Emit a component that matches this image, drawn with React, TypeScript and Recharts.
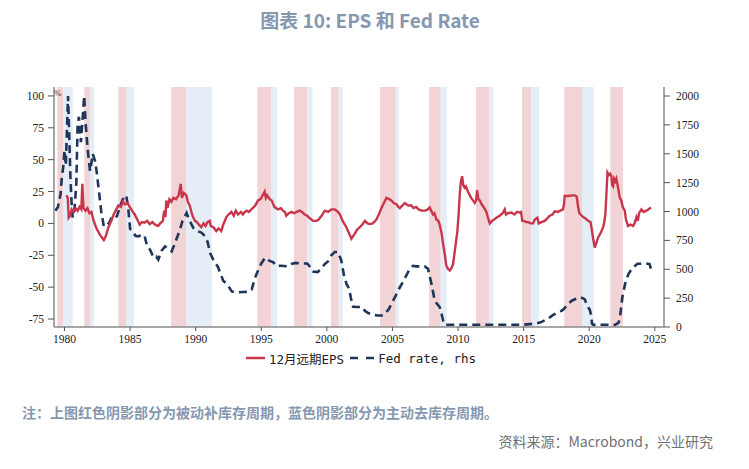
import React from 'react';
import { LineChart, Line, XAxis, YAxis, ReferenceArea } from 'recharts';

const xTicks = [1980, 1985, 1990, 1995, 2000, 2005, 2010, 2015, 2020, 2025];
const leftTicks = [-75, -50, -25, 0, 25, 50, 75, 100];
const rightTicks = [0, 250, 500, 750, 1000, 1250, 1500, 1750, 2000];

const redBands: [number, number][] = [
  [1979.45, 1979.9], [1981.51, 1981.95], [1984.1, 1984.7], [1988.13, 1989.27],
  [1994.7, 1995.74], [1997.5, 1998.5], [2000.32, 2000.9], [2004.05, 2005.25],
  [2007.79, 2008.68], [2011.37, 2012.36], [2014.88, 2015.59], [2018.1, 2019.46],
  [2021.61, 2022.58],
];
const blueBands: [number, number][] = [
  [1979.9, 1980.63], [1981.95, 1982.25], [1984.7, 1985.3], [1989.27, 1991.24],
  [1995.74, 1996.2], [1998.5, 1998.9], [2000.9, 2001.21], [2005.25, 2005.48],
  [2008.68, 2009.14], [2012.36, 2012.69], [2015.59, 2016.18], [2019.46, 2020.35],
];

const epsYears = [
  1980.15, 1980.25, 1980.32, 1980.42, 1980.55, 1980.7, 1980.85, 1981.0, 1981.15, 1981.28,
  1981.36, 1981.45, 1981.6, 1981.75, 1981.9, 1982.05, 1982.2, 1982.4, 1982.55, 1982.7,
  1982.85, 1983.0, 1983.15, 1983.35, 1983.57, 1983.75, 1983.9, 1984.1, 1984.3, 1984.45,
  1984.6, 1984.8, 1984.97, 1985.15, 1985.35, 1985.55, 1985.73, 1985.9, 1986.1, 1986.3,
  1986.5, 1986.7, 1986.9, 1987.13, 1987.3, 1987.5, 1987.6, 1987.7, 1987.76, 1987.85,
  1988.0, 1988.15, 1988.3, 1988.5, 1988.7, 1988.86, 1988.95, 1989.1, 1989.29, 1989.4,
  1989.55, 1989.7, 1989.8, 1989.95, 1990.1, 1990.25, 1990.43, 1990.6, 1990.75, 1990.9,
  1991.07, 1991.15, 1991.35, 1991.57, 1991.75, 1991.95, 1992.1, 1992.34, 1992.5, 1992.72,
  1992.9, 1993.05, 1993.23, 1993.45, 1993.6, 1993.74, 1993.9, 1994.05, 1994.24, 1994.45,
  1994.6, 1994.75, 1994.95, 1995.1, 1995.26, 1995.35, 1995.45, 1995.64, 1995.8, 1996.0,
  1996.28, 1996.5, 1996.66, 1996.8, 1996.91, 1997.1, 1997.3, 1997.5, 1997.7, 1997.93,
  1998.1, 1998.31, 1998.5, 1998.7, 1998.95, 1999.15, 1999.33, 1999.6, 1999.84, 2000.1,
  2000.34, 2000.6, 2000.85, 2001.0, 2001.2, 2001.49, 2001.7, 2001.87, 2002.0, 2002.13,
  2002.3, 2002.5, 2002.7, 2002.9, 2003.1, 2003.27, 2003.5, 2003.78, 2004.0, 2004.16,
  2004.35, 2004.54, 2004.75, 2004.92, 2005.1, 2005.3, 2005.45, 2005.56, 2005.75, 2005.94,
  2006.2, 2006.44, 2006.6, 2006.8, 2007.0, 2007.2, 2007.5, 2007.7, 2007.84, 2007.95,
  2008.1, 2008.2, 2008.35, 2008.5, 2008.6, 2008.75, 2008.86, 2009.0, 2009.1, 2009.25,
  2009.37, 2009.5, 2009.62, 2009.8, 2009.95, 2010.05, 2010.13, 2010.22, 2010.31, 2010.4,
  2010.5, 2010.6, 2010.75, 2010.9, 2011.0, 2011.15, 2011.27, 2011.38, 2011.45, 2011.55,
  2011.66, 2011.8, 2012.0, 2012.16, 2012.3, 2012.42, 2012.6, 2012.8, 2013.0, 2013.18,
  2013.4, 2013.56, 2013.65, 2013.8, 2014.07, 2014.3, 2014.5, 2014.7, 2014.8, 2014.9,
  2015.0, 2015.2, 2015.34, 2015.55, 2015.72, 2015.85, 2016.05, 2016.15, 2016.35, 2016.6,
  2016.8, 2016.99, 2017.2, 2017.37, 2017.6, 2017.8, 2018.0, 2018.08, 2018.13, 2018.4,
  2018.7, 2018.9, 2019.05, 2019.15, 2019.25, 2019.53, 2019.7, 2019.91, 2020.1, 2020.2,
  2020.3, 2020.42, 2020.55, 2020.68, 2020.9, 2021.06, 2021.15, 2021.23, 2021.32, 2021.39,
  2021.5, 2021.6, 2021.69, 2021.75, 2021.82, 2021.9, 2022.0, 2022.07, 2022.2, 2022.33,
  2022.45, 2022.55, 2022.71, 2022.8, 2022.96, 2023.15, 2023.34, 2023.45, 2023.6, 2023.7,
  2023.8, 2023.98, 2024.15, 2024.35, 2024.5, 2024.7,
];
const epsValues = [
  22, 20, 4.5, 6, 11, 9, 12, 10, 13, 11,
  31, 12, 10, 12, 8, 9, 3, -3, -6, -9,
  -11, -13, -10, -3, 2, 7, 10, 14, 13, 17,
  15, 16, 13, 10, 7, 3, -1, 1, 0.5, 2,
  -0.5, 1, -1, -2, 0, 2, 10, 5, 18, 12,
  19, 17, 20, 19, 22, 31, 20, 24, 22, 17,
  14, 8, 5, 2, 1, -1, -3, 0, -2, 1,
  2, -2, -3, -6, -4, -6, -1, 5, 7, 9,
  6, 10, 7, 9, 7, 9, 10, 9, 11, 13,
  15, 18, 19, 22, 25, 20, 22, 19, 18, 13,
  11, 12, 10, 9, 6, 8, 9, 8, 9, 10,
  9, 7, 6, 4, 2, 2, 2.5, 6, 10, 9,
  11, 11, 9, 7, 2, -3, -8, -12, -10, -8,
  -5, -3, -1, 2, 0, -0.5, 0, 3, 8, 12,
  16, 20, 19, 18, 16, 15, 13, 12, 14, 16,
  14, 14, 12, 13, 11, 10, 10, 11, 12.5, 10,
  7, 8, 3, 2, -1, -8, -16, -25, -33, -36,
  -37, -35, -32, -18, -6, 8, 23, 33, 37, 30,
  28, 29, 25, 22, 20, 18, 16, 18, 26, 19,
  18, 15, 12, 9, 4, 0, 2, 3.5, 5, 6,
  8, 11, 7, 8, 8.5, 7, 9, 8.5, 9, 2,
  2, 1, 1, 0, 0, 3, 4.5, 0, 1, 2,
  4, 6, 7, 9.5, 9, 10, 11, 15, 21.5, 21.5,
  22, 22, 21, 13, 8, 5, 4, 2, 1, -5,
  -12, -19, -15, -11, -7, -3, 1, 7, 25, 40,
  38, 39, 37, 30, 29, 35, 33, 35, 28, 20,
  18, 13, 10, 3, -2, -1, -2, 0, 5, 2,
  8, 11, 9, 10, 11, 12.5,
];

const fedYears = [
  1979.3, 1979.5, 1979.7, 1979.8, 1979.9, 1980.0, 1980.1, 1980.27, 1980.35, 1980.45,
  1980.55, 1980.62, 1980.75, 1980.9, 1981.0, 1981.1, 1981.25, 1981.35, 1981.5, 1981.6,
  1981.75, 1981.85, 1981.95, 1982.05, 1982.15, 1982.35, 1982.5, 1982.65, 1982.8, 1983.0,
  1983.2, 1983.4, 1983.6, 1983.8, 1984.0, 1984.23, 1984.5, 1984.7, 1984.85, 1985.0,
  1985.2, 1985.4, 1985.63, 1985.9, 1986.1, 1986.3, 1986.52, 1986.8, 1987.0, 1987.15,
  1987.4, 1987.66, 1987.9, 1988.17, 1988.4, 1988.6, 1988.8, 1989.0, 1989.31, 1989.5,
  1989.82, 1990.1, 1990.4, 1990.6, 1990.9, 1991.1, 1991.34, 1991.7, 1992.1, 1992.4,
  1992.75, 1993.0, 1993.63, 1994.0, 1994.27, 1994.5, 1994.78, 1995.0, 1995.29, 1995.6,
  1995.92, 1996.1, 1996.5, 1997.0, 1997.3, 1997.6, 1998.0, 1998.5, 1998.8, 1998.95,
  1999.3, 1999.6, 1999.84, 2000.1, 2000.34, 2000.6, 2000.85, 2001.1, 2001.3, 2001.49,
  2001.7, 2001.87, 2002.0, 2002.3, 2002.7, 2002.9, 2003.14, 2003.5, 2003.9, 2004.28,
  2004.5, 2004.7, 2004.92, 2005.2, 2005.43, 2005.7, 2006.06, 2006.3, 2006.57, 2006.8,
  2007.2, 2007.46, 2007.71, 2007.97, 2008.1, 2008.22, 2008.4, 2008.6, 2008.75, 2008.86,
  2008.99, 2010.0, 2011.0, 2012.0, 2013.0, 2014.0, 2015.0, 2015.9, 2016.3, 2016.87,
  2017.2, 2017.63, 2017.9, 2018.1, 2018.39, 2018.7, 2019.0, 2019.28, 2019.5, 2019.66,
  2019.85, 2020.04, 2020.15, 2020.21, 2020.3, 2021.0, 2022.0, 2022.25, 2022.35, 2022.53,
  2022.79, 2023.0, 2023.17, 2023.4, 2023.68, 2024.0, 2024.45, 2024.6, 2024.7,
];
const fedValues = [
  1007, 1040, 1150, 1300, 1380, 1529, 1400, 2000, 1700, 1300,
  1050, 950, 1000, 1240, 1750, 1820, 1600, 1750, 2000, 1780,
  1560, 1450, 1350, 1420, 1500, 1430, 1300, 1150, 1000, 870,
  880, 900, 950, 940, 960, 1044, 1120, 1140, 1040, 850,
  830, 790, 784, 800, 790, 700, 669, 600, 610, 583,
  660, 698, 680, 655, 720, 780, 842, 920, 987, 930,
  858, 830, 820, 800, 740, 640, 583, 520, 400, 370,
  308, 300, 303, 305, 323, 420, 496, 550, 600, 575,
  560, 530, 530, 525, 545, 555, 550, 550, 510, 480,
  475, 510, 545, 570, 620, 650, 650, 577, 450, 375,
  330, 230, 175, 173, 173, 140, 121, 105, 100, 100,
  125, 150, 200, 260, 317, 370, 447, 500, 530, 525,
  525, 525, 505, 375, 300, 230, 200, 173, 110, 57,
  20, 20, 20, 20, 20, 20, 20, 30, 40, 72,
  100, 130, 140, 160, 202, 230, 245, 258, 250, 240,
  180, 150, 100, 30, 20, 20, 20, 40, 90, 260,
  404, 460, 490, 520, 548, 548, 548, 545, 505,
];

const epsData = epsYears.map((x, i) => ({ x, eps: epsValues[i] }));
const fedData = fedYears.map((x, i) => ({ x, fed: fedValues[i] }));

const RED = '#c8364b';
const NAVY = '#1f3658';
const SERIF = '"Liberation Serif", "Times New Roman", serif';
const TICK_STYLE: React.CSSProperties = { fontFamily: SERIF, fontSize: 11.5, fill: '#222' };

const XTick = (props: any) => (
  <text x={props.x} y={props.y} dy="0.71em" textAnchor="middle" style={TICK_STYLE}>
    {props.payload.value}
  </text>
);
const LeftTick = (props: any) => (
  <text x={props.x} y={props.y} dy="0.35em" textAnchor="end" style={TICK_STYLE}>
    {props.payload.value}
  </text>
);
const RightTick = (props: any) => (
  <text x={props.x} y={props.y} dy="0.35em" textAnchor="start" style={TICK_STYLE}>
    {props.payload.value}
  </text>
);

export default function App() {
  return (
    <div
      style={{
        position: 'absolute', left: 0, top: 0, width: 749, height: 469,
        background: '#fff', fontFamily: '"Noto Sans CJK SC", sans-serif', overflow: 'hidden',
      }}
    >
      <div
        style={{
          position: 'absolute', left: 0, top: 7, width: 740, textAlign: 'center',
          fontSize: 19, lineHeight: '26px', fontWeight: 700, color: '#8598b0',
        }}
      >
        图表 10: EPS 和 Fed Rate
      </div>

      <div style={{ position: 'absolute', left: 0, top: 0 }}>
        <LineChart
          width={749}
          height={469}
          margin={{ top: 87, right: 40, bottom: 112, left: 0 }}
        >
          <XAxis
            dataKey="x"
            type="number"
            xAxisId="x"
            domain={[1979.2, 2025.7]}
            ticks={xTicks}
            allowDataOverflow
            height={30}
            tick={<XTick />}
            tickSize={4}
            tickMargin={4}
            stroke="#8a8a8a"
            axisLine={{ stroke: '#8a8a8a', strokeWidth: 1.5 }}
            tickLine={{ stroke: '#555' }}
          />
          <YAxis
            yAxisId="left"
            orientation="left"
            domain={[-81.25, 107]}
            ticks={leftTicks}
            allowDataOverflow
            width={54}
            tick={<LeftTick />}
            tickSize={6}
            tickMargin={4}
            axisLine={{ stroke: '#8a8a8a', strokeWidth: 1.5 }}
            tickLine={{ stroke: '#555' }}
          />
          <YAxis
            yAxisId="right"
            orientation="right"
            domain={[0, 2078]}
            ticks={rightTicks}
            allowDataOverflow
            width={45}
            tick={<RightTick />}
            tickSize={6}
            tickMargin={6}
            axisLine={{ stroke: '#8a8a8a', strokeWidth: 1.5 }}
            tickLine={{ stroke: '#555' }}
          />
          {redBands.map(([a, b], i) => (
            <ReferenceArea
              key={'r' + i}
              xAxisId="x"
              yAxisId="left"
              x1={a}
              x2={b}
              fill="#f2d4d7"
              fillOpacity={1}
              stroke="none"
            />
          ))}
          {blueBands.map(([a, b], i) => (
            <ReferenceArea
              key={'b' + i}
              xAxisId="x"
              yAxisId="left"
              x1={a}
              x2={b}
              fill="#e5edf6"
              fillOpacity={1}
              stroke="none"
            />
          ))}
          <Line
            data={fedData}
            xAxisId="x"
            yAxisId="right"
            dataKey="fed"
            type="linear"
            stroke={NAVY}
            strokeWidth={2.6}
            strokeDasharray="8 5"
            dot={false}
            isAnimationActive={false}
          />
          <Line
            data={epsData}
            xAxisId="x"
            yAxisId="left"
            dataKey="eps"
            type="linear"
            stroke={RED}
            strokeWidth={2.4}
            dot={false}
            isAnimationActive={false}
          />
        </LineChart>
      </div>

      <div
        style={{
          position: 'absolute', left: 54, top: 88, fontSize: 9,
          fontFamily: SERIF, color: '#333',
        }}
      >
        %
      </div>

      <div
        style={{
          position: 'absolute', left: 246, top: 349, height: 18, display: 'flex',
          alignItems: 'center', fontSize: 12.5, color: '#222',
          fontFamily: '"DejaVu Sans Mono", "Noto Sans CJK SC", monospace', whiteSpace: 'pre',
        }}
      >
        <svg width={20} height={6} style={{ marginRight: 3 }}>
          <line x1={0} y1={3} x2={19} y2={3} stroke={RED} strokeWidth={2.5} />
        </svg>
        <span>12月远期EPS</span>
        <svg width={26} height={6} style={{ marginLeft: 6, marginRight: 2 }}>
          <line x1={0} y1={3} x2={24} y2={3} stroke={NAVY} strokeWidth={2.5} strokeDasharray="8 8" />
        </svg>
        <span>Fed rate, rhs</span>
      </div>

      <div
        style={{
          position: 'absolute', left: 22, top: 402, fontSize: 14, lineHeight: '20px',
          fontWeight: 700, color: '#8598b0', whiteSpace: 'nowrap',
        }}
      >
        注：上图红色阴影部分为被动补库存周期，蓝色阴影部分为主动去库存周期。
      </div>
      <div
        style={{
          position: 'absolute', right: 36, top: 431, fontSize: 14, lineHeight: '20px',
          color: '#707070', whiteSpace: 'nowrap',
        }}
      >
        资料来源：Macrobond，兴业研究
      </div>
    </div>
  );
}
